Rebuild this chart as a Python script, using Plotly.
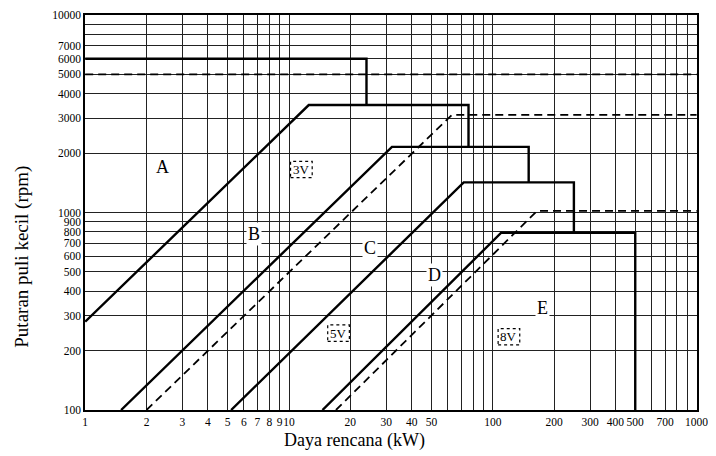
import numpy as np
import plotly.graph_objects as go

# ---- axis ticks ----
x_ticks = [1, 2, 3, 4, 5, 6, 7, 8, 9, 10, 20, 30, 40, 50, 60, 70, 80, 90,
           100, 200, 300, 400, 500, 600, 700, 800, 900, 1000]
x_ticktext = ["1", "2", "3", "4", "5", "6", "7", "8", "9", "10", "20", "30", "40", "50",
              "", "", "", "", "100", "200", "300", "400", "500", "", "700", "", "", "1000"]
y_ticks = [100, 200, 300, 400, 500, 600, 700, 800, 900, 1000,
           2000, 3000, 4000, 5000, 6000, 7000, 8000, 9000, 10000]
y_ticktext = ["100", "200", "300", "400", "500", "600", "700", "800", "900", "1000",
              "2000", "3000", "4000", "5000", "6000", "7000", "", "", "10000"]

# ---- solid region boundaries (kW, rpm) ----
a_top_kw = [1, 24, 24]
a_top_rpm = [6000, 6000, 3500]
ab_kw = [1, 12.5, 76, 76]
ab_rpm = [280, 3500, 3500, 2150]
bc_kw = [1.5, 32, 150, 150]
bc_rpm = [100, 2150, 2150, 1420]
cd_kw = [5.2, 72, 250, 250]
cd_rpm = [100, 1420, 1420, 790]
de_kw = [14.6, 110, 500, 500]
de_rpm = [100, 790, 790, 100]

# ---- dashed narrow-belt boundaries ----
v3_kw = [1, 1000]
v3_rpm = [5000, 5000]
v5_kw = [2, 63, 1000]
v5_rpm = [100, 3120, 3120]
v8_kw = [17, 165, 1000]
v8_rpm = [100, 1020, 1020]

# ---- labels ----
sec_names = ["A", "B", "C", "D", "E"]
sec_kw = [2.4, 6.7, 25, 52, 175]
sec_rpm = [1700, 780, 660, 480, 330]
box_names = ["3V", "5V", "8V"]
box_kw = [11.5, 17.5, 120]
box_rpm = [1650, 245, 235]

SERIF = "Liberation Serif"

fig = go.Figure()
solid = [(a_top_kw, a_top_rpm), (ab_kw, ab_rpm), (bc_kw, bc_rpm), (cd_kw, cd_rpm), (de_kw, de_rpm)]
for xs, ys in solid:
    fig.add_trace(go.Scatter(x=xs, y=ys, mode="lines",
                             line=dict(color="black", width=2.4),
                             showlegend=False, hoverinfo="skip"))
dashed = [(v3_kw, v3_rpm), (v5_kw, v5_rpm), (v8_kw, v8_rpm)]
for xs, ys in dashed:
    fig.add_trace(go.Scatter(x=xs, y=ys, mode="lines",
                             line=dict(color="black", width=1.8, dash="8px,5px"),
                             showlegend=False, hoverinfo="skip"))

annotations = []
for n, xk, yr in zip(sec_names, sec_kw, sec_rpm):
    annotations.append(dict(x=np.log10(xk), y=np.log10(yr), xref="x", yref="y",
                            text=n, showarrow=False, bgcolor="white",
                            font=dict(family=SERIF, size=18, color="black")))
shapes = []
for n, xk, yr in zip(box_names, box_kw, box_rpm):
    shapes.append(dict(type="rect", xref="x", yref="y",
                       x0=xk / 1.13, x1=xk * 1.13, y0=yr / 1.1, y1=yr * 1.1,
                       fillcolor="white", layer="above",
                       line=dict(color="black", width=1.2, dash="dot")))
    annotations.append(dict(x=np.log10(xk), y=np.log10(yr), xref="x", yref="y",
                            text=n, showarrow=False,
                            font=dict(family=SERIF, size=13, color="black")))

annotations.append(dict(x=0.441, y=-0.078, xref="paper", yref="paper",
                        text="Daya rencana (kW)", showarrow=False,
                        xanchor="center", yanchor="middle",
                        font=dict(family=SERIF, size=18, color="black")))
annotations.append(dict(x=-0.103, y=0.388, xref="paper", yref="paper",
                        text="Putaran puli kecil (rpm)", showarrow=False,
                        textangle=-90, xanchor="center", yanchor="middle",
                        font=dict(family=SERIF, size=19, color="black")))

fig.update_layout(
    width=708, height=448,
    margin=dict(l=77, r=19, t=7, b=46, autoexpand=False),
    paper_bgcolor="white", plot_bgcolor="white",
    font=dict(family=SERIF, size=12, color="black"),
    annotations=annotations, shapes=shapes,
    xaxis=dict(type="log", range=[-0.001, 3.002], tickvals=x_ticks, ticktext=x_ticktext,
               tickangle=0,
               showgrid=True, gridcolor="#222", gridwidth=1, automargin=False,
               showline=True, linecolor="black", linewidth=1.5, mirror=True,
               ticks="", zeroline=False,
               tickfont=dict(family=SERIF, size=11.5, color="black")),
    yaxis=dict(type="log", range=[2, 4], tickvals=y_ticks, ticktext=y_ticktext,
               tickangle=0,
               showgrid=True, gridcolor="#222", gridwidth=1, automargin=False,
               showline=True, linecolor="black", linewidth=1.5, mirror=True,
               ticks="", zeroline=False,
               tickfont=dict(family=SERIF, size=11.5, color="black")),
)

fig.write_html("out.html")
